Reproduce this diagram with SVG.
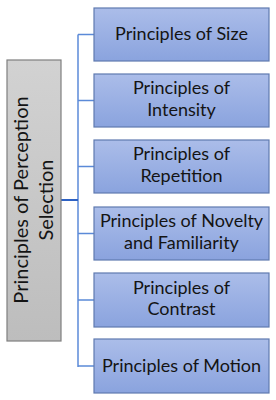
<svg xmlns="http://www.w3.org/2000/svg" width="276" height="400" viewBox="0 0 276 400">
<defs>
<linearGradient id="gb" x1="0" y1="0" x2="0" y2="1">
<stop offset="0" stop-color="#abbde9"/>
<stop offset="1" stop-color="#8aa3de"/>
</linearGradient>
<linearGradient id="gg" x1="0" y1="0" x2="0" y2="1">
<stop offset="0" stop-color="#d2d2d2"/>
<stop offset="1" stop-color="#bdbdbd"/>
</linearGradient>
</defs>
<style>
.b{fill:url(#gb);stroke:#5f7ab0;stroke-width:1.2}
.g{fill:url(#gg);stroke:#7f7f7f;stroke-width:1.2}
.t{font-family:Lato,"Open Sans",sans-serif;font-size:18px;fill:#141414;text-anchor:middle}
.tg{font-family:Lato,"Open Sans",sans-serif;font-size:20px;fill:#141414;text-anchor:middle}
.c{fill:none;stroke:#5b8ad8;stroke-width:1.5}
</style>
<rect width="276" height="400" fill="#ffffff"/>
<g id="connectors">
<path class="c" d="M78 34.5V367"/>
<path class="c" d="M61 200H78" style="stroke:#2e62c4;stroke-width:2"/>
<path class="c" d="M78 34.5H94M78 100.5H94M78 166.5H94M78 233.5H94M78 300H94M78 366H94"/>
</g>
<g id="root">
<rect class="g" x="7" y="60" width="54" height="281"/>
<text class="tg" transform="translate(34 200) rotate(-90)"><tspan x="0" y="-6">Principles of Perception</tspan><tspan x="0" y="19">Selection</tspan></text>
</g>
<g id="n1"><rect class="b" x="94" y="8" width="175" height="53"/><text class="t" x="181.5" y="40">Principles of Size</text></g>
<g id="n2"><rect class="b" x="94" y="74" width="175" height="53"/><text class="t" x="181.5" y="94">Principles of</text><text class="t" x="181.5" y="115.5">Intensity</text></g>
<g id="n3"><rect class="b" x="94" y="140" width="175" height="53"/><text class="t" x="181.5" y="160">Principles of</text><text class="t" x="181.5" y="181.5">Repetition</text></g>
<g id="n4"><rect class="b" x="94" y="207" width="175" height="53"/><text class="t" x="181.5" y="227">Principles of Novelty</text><text class="t" x="181.5" y="248.5">and Familiarity</text></g>
<g id="n5"><rect class="b" x="94" y="273" width="175" height="54"/><text class="t" x="181.5" y="293.5">Principles of</text><text class="t" x="181.5" y="315">Contrast</text></g>
<g id="n6"><rect class="b" x="94" y="339" width="175" height="54"/><text class="t" x="181.5" y="372">Principles of Motion</text></g>
</svg>
